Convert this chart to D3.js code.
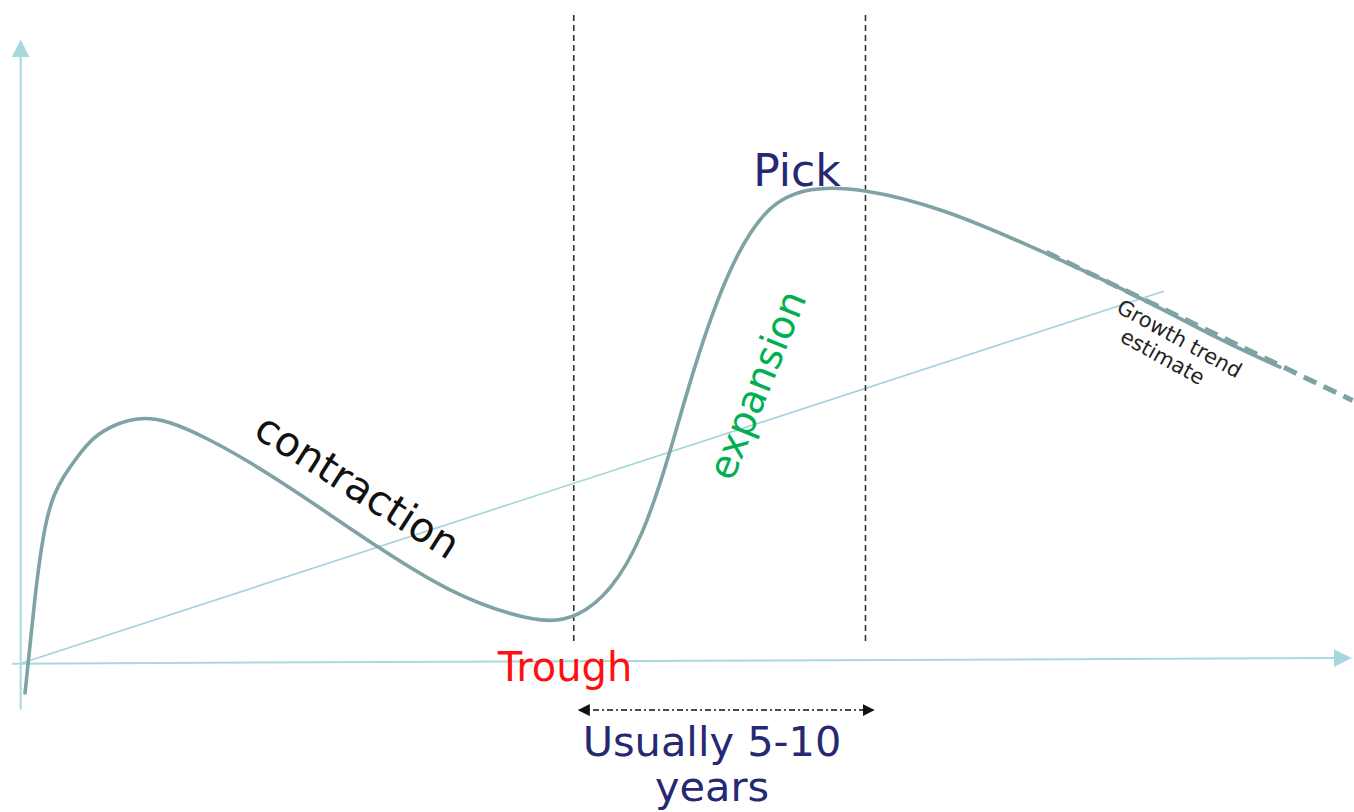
<!DOCTYPE html>
<html>

<head>
    <meta charset="utf-8" />
    <script src="https://d3js.org/d3.v7.min.js"></script>
    <style>
        body { margin: 0; background: #fff; }
        svg text { font-family: "DejaVu Sans", Verdana, sans-serif; }
    </style>
</head>

<body>
    <svg id="chart" width="1354" height="812"></svg>

    <script>
        // business cycle curve (time, output level)
        const cycleT = [0.23, 0.61, 0.98, 1.36, 1.82, 2.42, 3.11, 4.17, 5.38, 7.05, 8.94, 10.98, 14.02, 17.27, 21.06,
            26.89, 32.42, 37.5, 40.0, 42.05, 44.55, 47.05, 49.09, 50.83, 53.41, 56.44, 59.7, 63.48, 69.55, 77.12,
            84.7, 90.76, 95.3];
        const cycleV = [-4.78, 2.87, 10.51, 16.88, 22.77, 26.91, 29.62, 32.8, 35.99, 38.06, 39.17, 38.69, 35.83, 32.01, 26.91,
            18.47, 11.15, 7.32, 6.53, 7.32, 11.15, 20.06, 33.44, 46.66, 62.58, 73.25, 75.8, 75.64, 72.61, 65.76,
            58.28, 51.43, 47.13];

        // long run growth trend
        const trendT = [0, 86.5];
        const trendV = [0, 59.2];

        // growth trend estimate (dashed)
        const estimateT = [77.6, 100.8];
        const estimateV = [65.4, 41.8];

        // trough / peak markers
        const markerT = [41.8, 63.9];
        const markerBottom = [3.3, 2.9];
        const markerTop = 103.2;

        // duration arrow
        const spanT = [42.2, 64.5];
        const spanV = -7.5;

        const width = 1354, height = 812;
        const x = d3.scaleLinear().domain([0, 100]).range([22, 1342]);
        const y = d3.scaleLinear().domain([0, 100]).range([663, 35]);

        const svg = d3.select("#chart");
        const defs = svg.append("defs");

        // arrow heads
        defs.append("marker")
            .attr("id", "axisHead")
            .attr("viewBox", "0 0 10 10")
            .attr("refX", 9).attr("refY", 5)
            .attr("markerWidth", 9).attr("markerHeight", 9)
            .attr("markerUnits", "strokeWidth")
            .attr("orient", "auto")
            .append("path").attr("d", "M0,0L10,5L0,10Z").attr("fill", "#a6d9de");

        defs.append("marker")
            .attr("id", "spanHead")
            .attr("viewBox", "0 0 10 10")
            .attr("refX", 9).attr("refY", 5)
            .attr("markerWidth", 8).attr("markerHeight", 8)
            .attr("markerUnits", "strokeWidth")
            .attr("orient", "auto-start-reverse")
            .append("path").attr("d", "M0,0L10,5L0,10Z").attr("fill", "#111");

        // axes
        svg.append("line")
            .attr("x1", x(-0.75)).attr("y1", y(-0.1))
            .attr("x2", x(100.6)).attr("y2", y(0.8))
            .attr("stroke", "#a6d9de").attr("stroke-width", 2)
            .attr("marker-end", "url(#axisHead)");

        svg.append("line")
            .attr("x1", x(-0.1)).attr("y1", y(-7.4))
            .attr("x2", x(-0.1)).attr("y2", y(99))
            .attr("stroke", "#a6d9de").attr("stroke-width", 2)
            .attr("marker-end", "url(#axisHead)");

        // trend line
        svg.append("path")
            .datum(d3.zip(trendT, trendV))
            .attr("fill", "none")
            .attr("stroke", "#9fd5d9")
            .attr("stroke-width", 1.6)
            .attr("d", d3.line().x(d => x(d[0])).y(d => y(d[1])));

        // vertical markers
        svg.append("g")
            .selectAll("line")
            .data(markerT)
            .join("line")
            .attr("x1", d => x(d)).attr("x2", d => x(d))
            .attr("y1", y(markerTop))
            .attr("y2", (d, i) => y(markerBottom[i]))
            .attr("stroke", "#333")
            .attr("stroke-width", 1.6)
            .attr("stroke-dasharray", "6,4");

        // cycle curve
        svg.append("path")
            .datum(d3.zip(cycleT, cycleV))
            .attr("fill", "none")
            .attr("stroke", "#7fa2a5")
            .attr("stroke-width", 3.6)
            .attr("stroke-linecap", "round")
            .attr("d", d3.line().curve(d3.curveBasis).x(d => x(d[0])).y(d => y(d[1])));

        // growth trend estimate
        svg.append("path")
            .datum(d3.zip(estimateT, estimateV))
            .attr("fill", "none")
            .attr("stroke", "#7fa2a5")
            .attr("stroke-width", 5)
            .attr("stroke-dasharray", "14,8")
            .attr("d", d3.line().x(d => x(d[0])).y(d => y(d[1])));

        // duration arrow
        svg.append("line")
            .attr("x1", x(spanT[0])).attr("x2", x(spanT[1]))
            .attr("y1", y(spanV)).attr("y2", y(spanV))
            .attr("stroke", "#111")
            .attr("stroke-width", 1.5)
            .attr("stroke-dasharray", "6,3,2,3")
            .attr("marker-start", "url(#spanHead)")
            .attr("marker-end", "url(#spanHead)");

        // labels
        svg.append("text")
            .attr("x", 797).attr("y", 186)
            .attr("text-anchor", "middle")
            .attr("font-size", 44)
            .attr("fill", "#272873")
            .text("Pick");

        svg.append("text")
            .attr("x", 565).attr("y", 681)
            .attr("text-anchor", "middle")
            .attr("font-size", 40)
            .attr("fill", "#ff1010")
            .text("Trough");

        svg.append("text")
            .attr("x", 712).attr("y", 756)
            .attr("text-anchor", "middle")
            .attr("font-size", 41.5)
            .attr("fill", "#272873")
            .text("Usually 5-10");

        svg.append("text")
            .attr("x", 712).attr("y", 801)
            .attr("text-anchor", "middle")
            .attr("font-size", 41.5)
            .attr("fill", "#272873")
            .text("years");

        svg.append("text")
            .attr("transform", "translate(350,498) rotate(32.5)")
            .attr("text-anchor", "middle")
            .attr("font-size", 41)
            .attr("fill", "#111")
            .text("contraction");

        svg.append("text")
            .attr("transform", "translate(757,385) rotate(-68)")
            .attr("text-anchor", "middle")
            .attr("dy", "0.35em")
            .attr("font-size", 39)
            .attr("fill", "#00b050")
            .text("expansion");

        const est = svg.append("text")
            .attr("transform", "translate(1176,345) rotate(29)")
            .attr("text-anchor", "middle")
            .attr("font-size", 21)
            .attr("fill", "#222");
        est.append("tspan").attr("x", 0).attr("dy", 0).text("Growth trend");
        est.append("tspan").attr("x", -6).attr("dy", "1.15em").text("estimate");
    </script>
</body>

</html>
